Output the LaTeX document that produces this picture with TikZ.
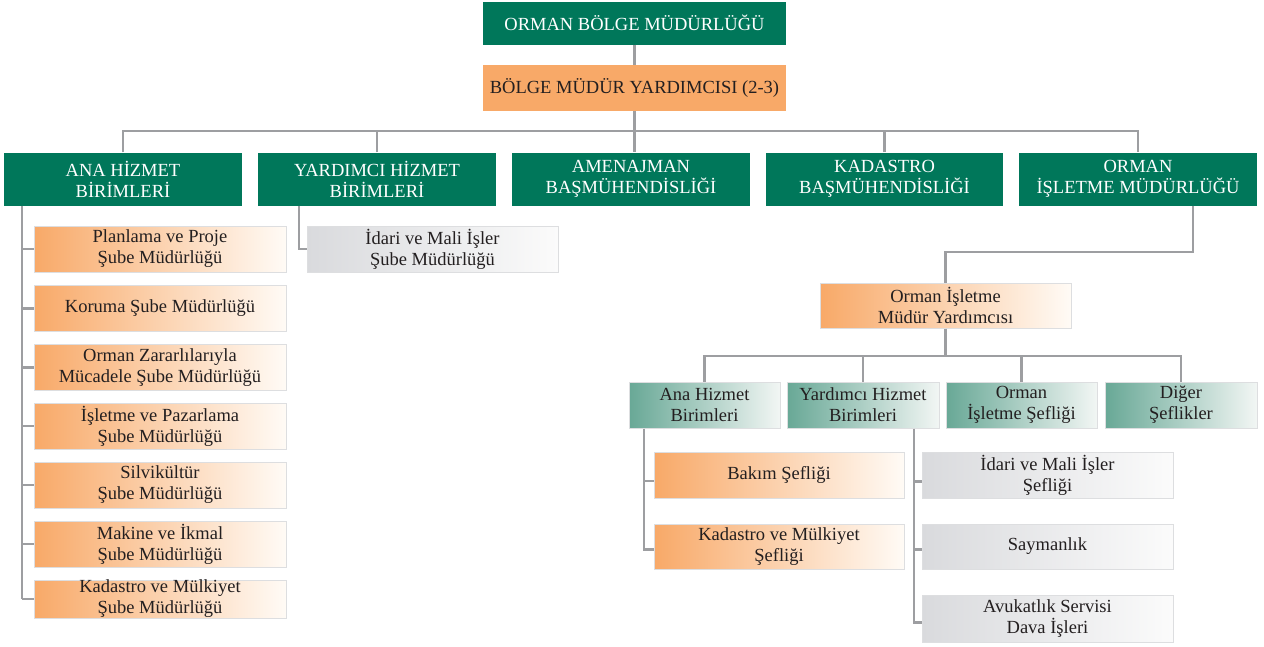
\documentclass[tikz,border=0pt]{standalone}
\usepackage{fontspec}
\setmainfont{Liberation Serif}
\definecolor{ogmGreen}{RGB}{0,119,90}
\definecolor{ogmOrange}{RGB}{248,169,104}
\definecolor{ogmLine}{RGB}{157,158,161}
\definecolor{ogmText}{RGB}{35,31,32}
\definecolor{ogmBorder}{RGB}{221,222,224}
\definecolor{ogmTeal}{RGB}{104,168,150}
\definecolor{ogmTealL}{RGB}{242,246,244}
\definecolor{ogmGrey}{RGB}{217,218,221}
\definecolor{ogmGreyL}{RGB}{251,251,251}
\definecolor{ogmOrL}{RGB}{255,251,246}
\begin{document}
\begin{tikzpicture}[x=1pt,y=-1pt,
  every node/.style={font=\fontsize{18.5}{21}\selectfont, align=center, inner sep=0pt, text=ogmText},
  gbox/.style={fill=ogmGreen, text=white, minimum width=238pt, minimum height=53pt},
  obox/.style={fill=ogmOrange, minimum width=303pt, minimum height=46pt},
  ogr/.style={draw=ogmBorder, line width=1pt, left color=ogmOrange, right color=ogmOrL, minimum width=251pt, minimum height=46pt},
  ggr/.style={draw=ogmBorder, line width=1pt, left color=ogmGrey, right color=ogmGreyL, minimum width=251pt, minimum height=46pt},
  tgr/.style={draw=ogmBorder, line width=1pt, left color=ogmTeal, right color=ogmTealL, minimum width=151pt, minimum height=46pt},
  conn/.style={draw=ogmLine, line width=2.3pt}]
\useasboundingbox (0,0) rectangle (1264,646);

% bolge
\node[gbox, minimum width=303pt, minimum height=43pt] (obm) at (634.5,23) {ORMAN BÖLGE MÜDÜRLÜĞÜ};
\node[obox] (bmy) at (634.5,88) {BÖLGE MÜDÜR YARDIMCISI (2-3)};
\node[gbox] (ana) at (123,179) {ANA HİZMET\\BİRİMLERİ};
\node[gbox] (yard) at (377,179) {YARDIMCI HİZMET\\BİRİMLERİ};
\node[gbox] (amen) at (631,179) {AMENAJMAN\\BAŞMÜHENDİSLİĞİ};
\node[gbox, minimum width=237pt] (kad) at (884.5,179) {KADASTRO\\BAŞMÜHENDİSLİĞİ};
\node[gbox] (orm) at (1138,179) {ORMAN\\İŞLETME MÜDÜRLÜĞÜ};

% sube mudurlukleri
\node[ogr, minimum width=252pt] (plan) at (160,249) {Planlama ve Proje\\Şube Müdürlüğü};
\node[ogr, minimum width=252pt] (kor) at (160,308.5) {Koruma Şube Müdürlüğü};
\node[ogr, minimum width=252pt] (zar) at (160,367.5) {Orman Zararlılarıyla\\Mücadele Şube Müdürlüğü};
\node[ogr, minimum width=252pt] (paz) at (160,426) {İşletme ve Pazarlama\\Şube Müdürlüğü};
\node[ogr, minimum width=252pt] (silv) at (160,485) {Silvikültür\\Şube Müdürlüğü};
\node[ogr, minimum width=252pt] (mak) at (160,544) {Makine ve İkmal\\Şube Müdürlüğü};
\node[ogr, minimum width=252pt, minimum height=38pt] (kadsm) at (160,599) {Kadastro ve Mülkiyet\\Şube Müdürlüğü};
\node[ggr] (idsm) at (432.5,249) {İdari ve Mali İşler\\Şube Müdürlüğü};

% isletme
\node[ogr, minimum height=45pt] (oimy) at (945.5,305.5) {Orman İşletme\\Müdür Yardımcısı};
\node[tgr] (ah) at (704.5,405) {Ana Hizmet\\Birimleri};
\node[tgr, minimum width=152pt] (yh) at (863,405) {Yardımcı Hizmet\\Birimleri};
\node[tgr] (ois) at (1021.5,405) {Orman\\İşletme Şefliği};
\node[tgr, minimum width=152pt] (dig) at (1181,405) {Diğer\\Şeflikler};
\node[ogr, minimum width=250pt] (bak) at (779,475) {Bakım Şefliği};
\node[ogr, minimum width=250pt, minimum height=45pt] (kadms) at (779,546.5) {Kadastro ve Mülkiyet\\Şefliği};
\node[ggr] (idms) at (1047.5,475.5) {İdari ve Mali İşler\\Şefliği};
\node[ggr, minimum height=45pt] (say) at (1047.5,546.5) {Saymanlık};
\node[ggr, minimum height=47pt] (avk) at (1047.5,618.5) {Avukatlık Servisi\\Dava İşleri};

% baglantilar
\coordinate (bus) at (634,131);
\coordinate (anaL) at (22,0);
\coordinate (yardL) at (299,0);
\coordinate (ormD) at (1193,252);
\coordinate (bus2) at (945.5,356);
\coordinate (ahL) at (644,0);
\coordinate (yhL) at (914,0);
\draw[conn] (obm) -- (bmy);
\draw[conn] (bmy.south) -- (bmy.south |- amen.north);
\draw[conn] (ana.north) |- (bus) -| (orm.north);
\draw[conn] (yard.north) -- (yard.north |- bus);
\draw[conn] (kad.north) -- (kad.north |- bus);
\draw[conn] (anaL |- ana.south) -- (anaL |- kadsm.west);
\foreach \n in {plan,kor,zar,paz,silv,mak,kadsm}
  \draw[conn] (anaL |- \n.west) -- (\n.west);
\draw[conn] (yardL |- yard.south) |- (idsm.west);
\draw[conn] (ormD |- orm.south) -- (ormD) -| (oimy.north);
\draw[conn] (oimy.south) -- (bus2);
\draw[conn] (ah.north) |- (bus2) -| (dig.north);
\draw[conn] (yh.north) -- (yh.north |- bus2);
\draw[conn] (ois.north) -- (ois.north |- bus2);
\draw[conn] (ahL |- ah.south) -- ([yshift=-3pt]ahL |- kadms.west) -- ([yshift=-3pt]kadms.west);
\draw[conn] ([yshift=-6pt]ahL |- bak.west) -- ([yshift=-6pt]bak.west);
\draw[conn] (yhL |- yh.south) -- ([yshift=-4pt]yhL |- avk.west) -- ([yshift=-4pt]avk.west);
\draw[conn] ([yshift=-6pt]yhL |- idms.west) -- ([yshift=-6pt]idms.west);
\draw[conn] ([yshift=-3pt]yhL |- say.west) -- ([yshift=-3pt]say.west);
\end{tikzpicture}
\end{document}
